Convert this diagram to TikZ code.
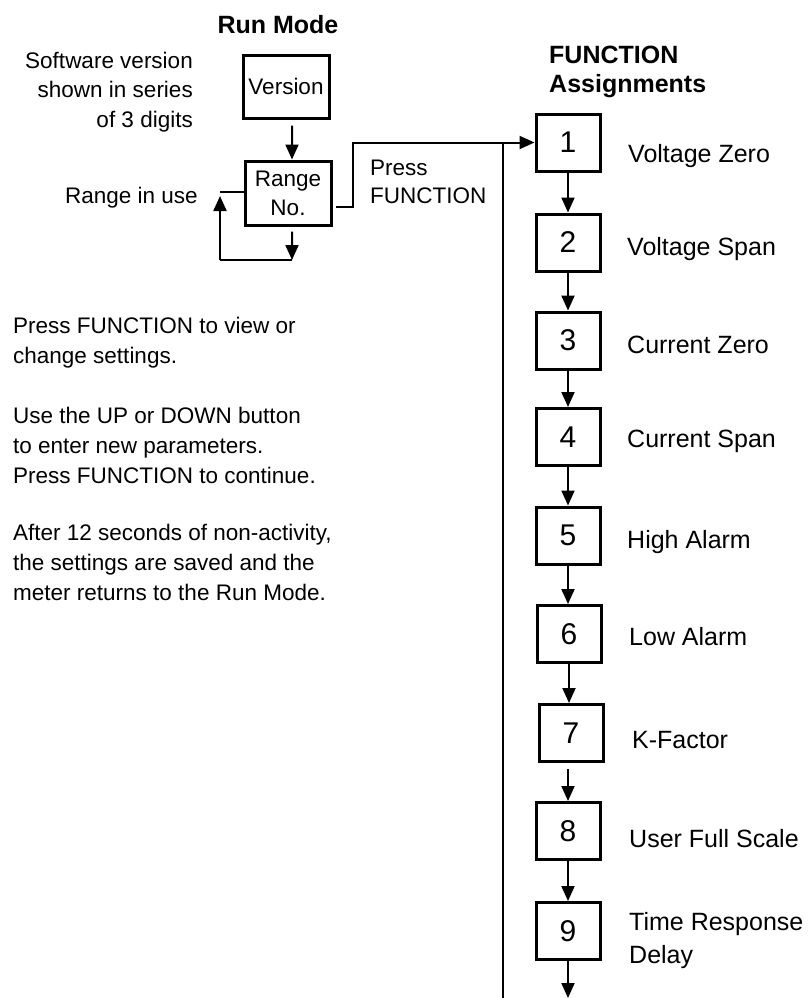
\documentclass[tikz,border=0pt]{standalone}
\usepackage{fontspec}
\setmainfont{Liberation Sans}
\usetikzlibrary{arrows.meta}
\begin{document}
\begin{tikzpicture}[x=1bp,y=-1bp,
  box/.style={draw,line width=3bp,minimum width=64bp,minimum height=57bp,inner sep=0,font=\fontsize{30bp}{34bp}\selectfont},
  bigbox/.style={box,minimum width=86bp,minimum height=63bp,align=center,font=\fontsize{22.5bp}{29bp}\selectfont},
  conn/.style={line width=2bp},
  arr/.style={conn,-{Triangle[width=13bp,length=15bp]}},
  lbl/.style={anchor=base west,inner sep=0,align=left,font=\fontsize{25bp}{33bp}\selectfont},
  txt/.style={inner sep=0,font=\fontsize{22.5bp}{30bp}\selectfont},
  hd/.style={inner sep=0,font=\bfseries\fontsize{25bp}{29bp}\selectfont}]
\useasboundingbox (0,0) rectangle (812,998);

% headings and notes (base anchor of a multi-line node = its last line)
\node[hd,anchor=base] (runmode) at (278,33) {Run Mode};
\node[hd,anchor=base west,align=left] (fa) at (549,92) {FUNCTION\\Assignments};
\node[txt,anchor=base east,align=right,font=\fontsize{22.5bp}{29.5bp}\selectfont] (sw) at (193,127) {Software version\\shown in series\\of 3 digits};
\node[txt,anchor=base east] (riu) at (198,203) {Range in use};
\node[txt,anchor=base west,align=left,font=\fontsize{22.5bp}{28bp}\selectfont] (pf) at (370,203) {Press\\FUNCTION};
\node[txt,anchor=base west,align=left] (notes) at (13,600) {Press FUNCTION to view or\\change settings.\\[30bp]Use the UP or DOWN button\\to enter new parameters.\\Press FUNCTION to continue.\\[27bp]After 12 seconds of non-activity,\\the settings are saved and the\\meter returns to the Run Mode.};

% run mode boxes
\node[bigbox] (ver) at (286,86.5) {Version};
\node[bigbox,minimum height=64bp] (rng) at (288,193) {Range\\No.};

% function boxes
\node[box] (b1) at (568,142.5) {1};
\node[box] (b2) at (568,242.5) {2};
\node[box] (b3) at (568,340.5) {3};
\node[box] (b4) at (568,437) {4};
\node[box] (b5) at (568,535.5) {5};
\node[box] (b6) at (569,634) {6};
\node[box] (b7) at (571,733) {7};
\node[box] (b8) at (568,831) {8};
\node[box] (b9) at (568,931) {9};

% labels
\node[lbl] (l1) at (628,162) {Voltage Zero};
\node[lbl] (l2) at (627,255) {Voltage Span};
\node[lbl] (l3) at (627,353) {Current Zero};
\node[lbl] (l4) at (627,447) {Current Span};
\node[lbl] (l5) at (627,548) {High Alarm};
\node[lbl] (l6) at (629,645) {Low Alarm};
\node[lbl] (l7) at (632,748) {K-Factor};
\node[lbl] (l8) at (629,847) {User Full Scale};
\node[lbl] (l9) at (629,963) {Time Response\\Delay};

% connectors in run mode
\draw[arr] ([xshift=6bp,yshift=-6bp]ver.south) -- ([xshift=4bp]rng.north);
\coordinate (lpR) at (292,260);
\coordinate (lpL) at (220,260);
\coordinate (lpT) at (220,196);
\coordinate (lpJ) at (220,192);
\draw[arr] ([xshift=4bp,yshift=-5bp]rng.south) -- (lpR);
\draw[conn] (lpR) -- (lpL);
\draw[arr] (lpL) -- (lpT);
\draw[conn] (lpJ) -- (rng.west |- lpJ);
\draw[arr] ([xshift=3bp,yshift=-14bp]rng.east) -- ++(17,0) |- (b1.west);

% long vertical line
\coordinate (vtop) at (503,143);
\coordinate (vbot) at (503,998);
\draw[conn] (vtop) -- (vbot);

% function chain
\draw[arr] (b1) -- (b2);
\draw[arr] (b2) -- (b3);
\draw[arr] (b3) -- (b4);
\draw[arr] (b4) -- (b5);
\draw[arr] (b5.south) -- (b5.south |- b6.north);
\draw[arr] (b6.south) -- (b6.south |- b7.north);
\draw[arr] ([yshift=-6bp]b7.south -| b8.north) -- (b8.north);
\draw[arr] (b8) -- (b9);
\coordinate (end) at (568,998);
\draw[arr] (b9) -- (end);
\end{tikzpicture}
\end{document}
